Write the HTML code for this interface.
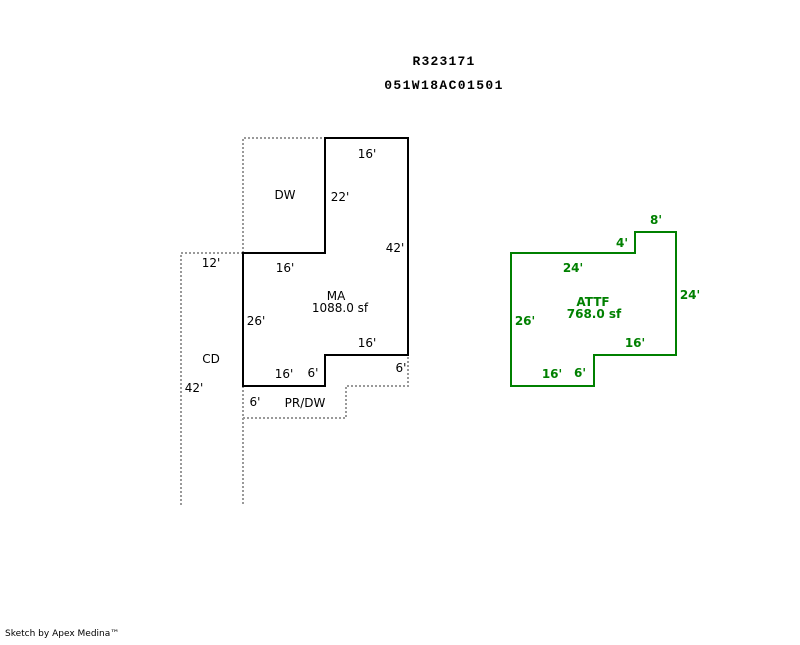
<!DOCTYPE html>
<html><head><style>
body{margin:0;background:#fff;width:800px;height:640px;overflow:hidden}
svg text{font-family:"DejaVu Sans","Liberation Sans",sans-serif;font-size:12px}
</style></head><body>
<svg width="800" height="640" xmlns="http://www.w3.org/2000/svg">
<g fill="none" stroke="#999" stroke-width="2" stroke-dasharray="2,2">
<polyline points="243,253 243,138 325,138"/>
<polyline points="243,253 181,253 181,505"/>
<polyline points="243,386 243,505"/>
<polyline points="243,386 243,418 346,418 346,386 408,386 408,355"/>
</g>
<polygon points="243,253 325,253 325,138 408,138 408,355 325,355 325,386 243,386" fill="none" stroke="#000" stroke-width="2"/>
<polygon points="511,253 635,253 635,232 676,232 676,355 594,355 594,386 511,386" fill="none" stroke="#008000" stroke-width="2"/>
<g text-anchor="middle" fill="#000">
<text x="444" y="65" style="font-weight:bold;font-family:'Liberation Mono',monospace;font-size:13px;letter-spacing:1.2px">R323171</text>
<text x="444" y="89" style="font-weight:bold;font-family:'Liberation Mono',monospace;font-size:13px;letter-spacing:1.4px">051W18AC01501</text>
</g>
<g fill="#000">
<text x="367" y="158" text-anchor="middle">16'</text>
<text x="285" y="199" text-anchor="middle">DW</text>
<text x="340" y="201" text-anchor="middle">22'</text>
<text x="395" y="252" text-anchor="middle">42'</text>
<text x="211" y="267" text-anchor="middle">12'</text>
<text x="285" y="272" text-anchor="middle">16'</text>
<text x="336" y="300" text-anchor="middle">MA</text>
<text x="340" y="312" text-anchor="middle">1088.0 sf</text>
<text x="256" y="325" text-anchor="middle">26'</text>
<text x="367" y="347" text-anchor="middle">16'</text>
<text x="211" y="363" text-anchor="middle">CD</text>
<text x="284" y="378" text-anchor="middle">16'</text>
<text x="313" y="377" text-anchor="middle">6'</text>
<text x="401" y="372" text-anchor="middle">6'</text>
<text x="194" y="392" text-anchor="middle">42'</text>
<text x="255" y="406" text-anchor="middle">6'</text>
<text x="305" y="407" text-anchor="middle">PR/DW</text>
</g>
<g fill="#008000" text-anchor="middle">
<text x="656" y="224" style="font-weight:bold">8'</text>
<text x="622" y="247" style="font-weight:bold">4'</text>
<text x="573" y="272" style="font-weight:bold">24'</text>
<text x="690" y="299" style="font-weight:bold">24'</text>
<text x="593" y="306" style="font-weight:bold">ATTF</text>
<text x="594" y="318" style="font-weight:bold">768.0 sf</text>
<text x="525" y="325" style="font-weight:bold">26'</text>
<text x="635" y="347" style="font-weight:bold">16'</text>
<text x="552" y="378" style="font-weight:bold">16'</text>
<text x="580" y="377" style="font-weight:bold">6'</text>
</g>
<text x="5" y="636" style="font-size:9px" fill="#000">Sketch by Apex Medina™</text>
</svg>
</body></html>
